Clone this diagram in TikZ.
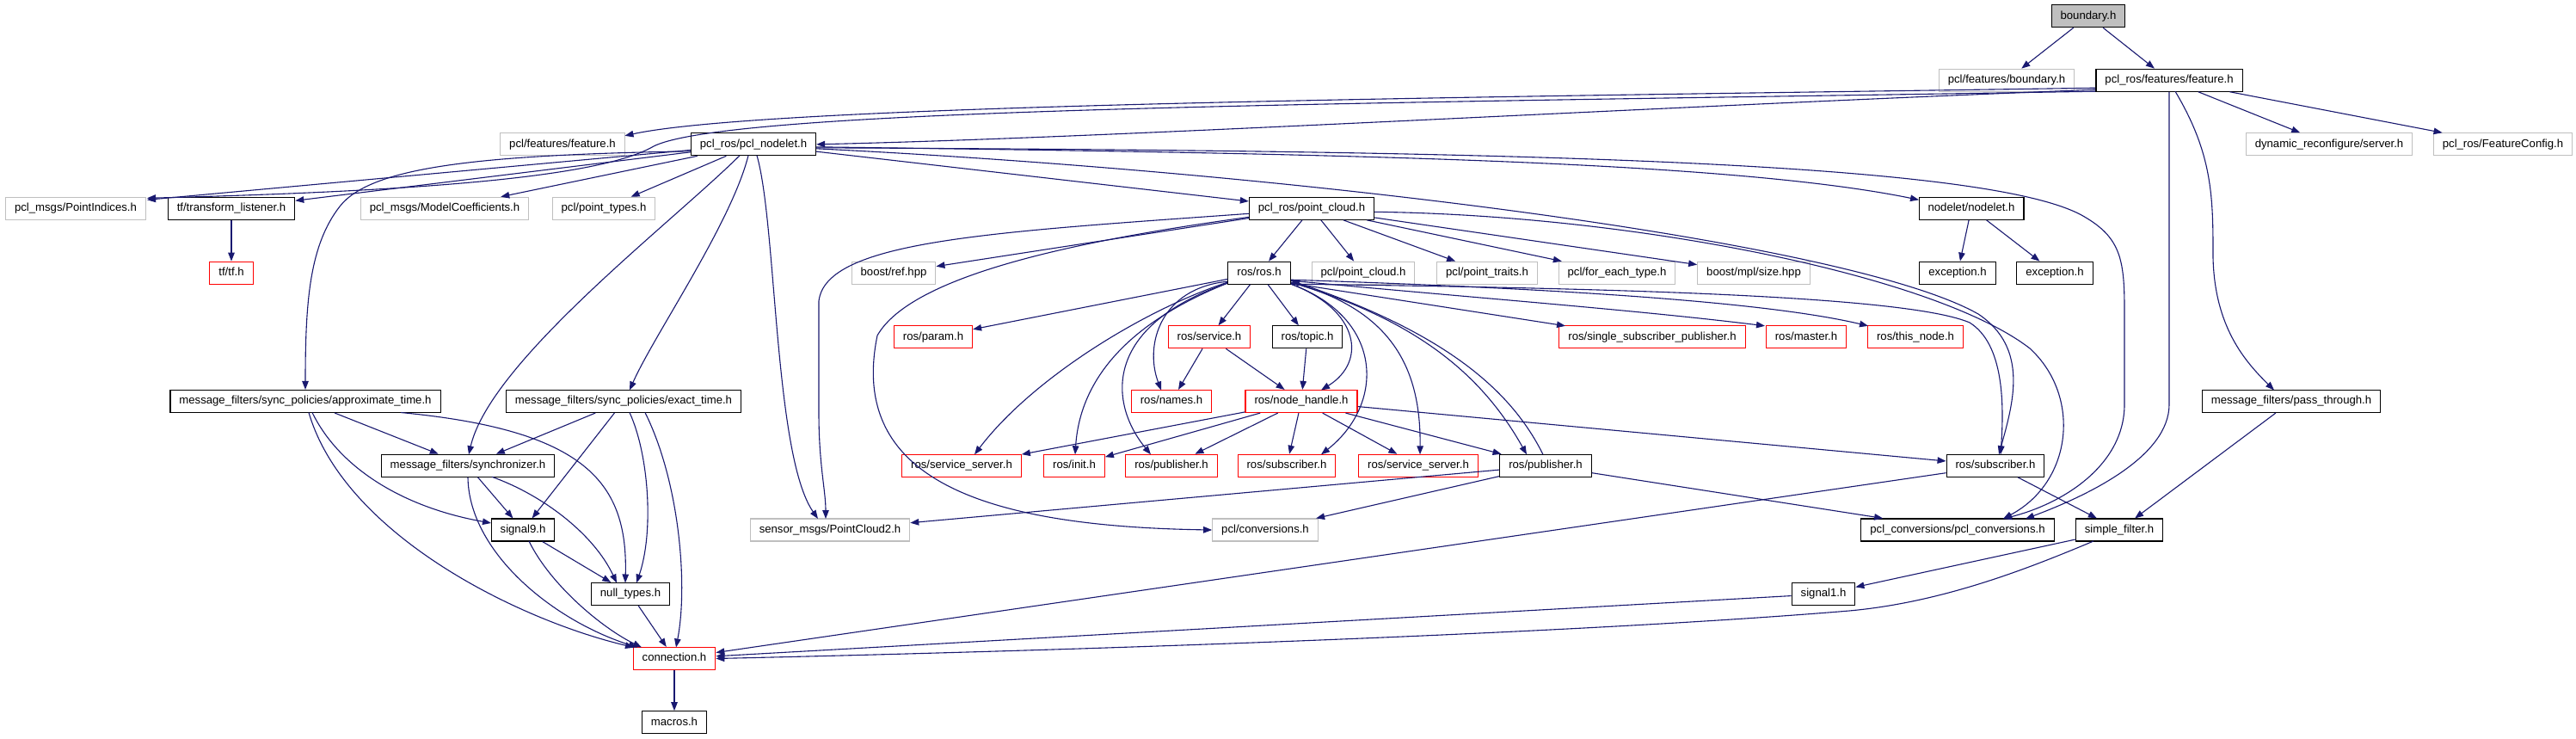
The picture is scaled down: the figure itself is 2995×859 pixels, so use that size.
\documentclass[tikz,border=0pt]{standalone}
\usepackage{fontspec}
\setmainfont{Liberation Sans}
\usetikzlibrary{arrows.meta}
\definecolor{edgec}{HTML}{191970}
\definecolor{grayb}{HTML}{BFBFBF}
\definecolor{redb}{HTML}{FF0000}
\tikzset{
 bx/.style={rectangle, line width=1.1pt, minimum height=26pt, inner xsep=10.5pt, inner ysep=0pt, text height=9.5pt, text depth=2.8pt, font=\fontsize{13.15pt}{15pt}\selectfont, fill=white},
 kbox/.style={bx, draw=black},
 gbox/.style={bx, draw=grayb},
 rbox/.style={bx, draw=redb},
 rootbox/.style={bx, draw=black, fill=grayb},
 edg/.style={draw=edgec, line width=1.1pt, -{Triangle[length=10pt,width=7.5pt]}},
}
\begin{document}
\begin{tikzpicture}[x=1pt,y=-1pt]
\fill[white] (0,0) rectangle (2995,859);
\useasboundingbox (0,0) rectangle (2995,859);
% row 0
\node[rootbox] (N0) at (2428,18.7) {boundary.h};
% row 1
\node[gbox] (N1) at (2333,93.2) {pcl/features/boundary.h};
\node[kbox] (N2) at (2522,93.2) {pcl\_ros/features/feature.h};
% row 2
\node[gbox] (N3) at (654,167.8) {pcl/features/feature.h};
\node[kbox] (N4) at (876,167.8) {pcl\_ros/pcl\_nodelet.h};
\node[gbox] (N5) at (2708,167.8) {dynamic\_reconfigure/server.h};
\node[gbox] (N6) at (2910,167.8) {pcl\_ros/FeatureConfig.h};
% row 3
\node[gbox] (N7) at (88,242.3) {pcl\_msgs/PointIndices.h};
\node[kbox] (N8) at (269,242.3) {tf/transform\_listener.h};
\node[gbox] (N9) at (517,242.3) {pcl\_msgs/ModelCoefficients.h};
\node[gbox] (N10) at (702,242.3) {pcl/point\_types.h};
\node[kbox] (N11) at (1525,242.3) {pcl\_ros/point\_cloud.h};
\node[kbox] (N12) at (2292,242.3) {nodelet/nodelet.h};
% row 4
\node[rbox] (N13) at (269,317.2) {tf/tf.h};
\node[gbox] (N14) at (1039,317.2) {boost/ref.hpp};
\node[kbox] (N15) at (1464,317.2) {ros/ros.h};
\node[gbox] (N16) at (1585,317.2) {pcl/point\_cloud.h};
\node[gbox] (N17) at (1729,317.2) {pcl/point\_traits.h};
\node[gbox] (N18) at (1880,317.2) {pcl/for\_each\_type.h};
\node[gbox] (N19) at (2039,317.2) {boost/mpl/size.hpp};
\node[kbox] (N20) at (2276,317.2) {exception.h};
\node[kbox] (N21) at (2389,317.2) {exception.h};
% row 5
\node[rbox] (N22) at (1085,391.8) {ros/param.h};
\node[rbox] (N23) at (1406,391.8) {ros/service.h};
\node[kbox] (N24) at (1520,391.8) {ros/topic.h};
\node[rbox] (N25) at (1921,391.8) {ros/single\_subscriber\_publisher.h};
\node[rbox] (N26) at (2100,391.8) {ros/master.h};
\node[rbox] (N27) at (2227,391.8) {ros/this\_node.h};
% row 6
\node[kbox] (N28) at (355,466.5) {message\_filters/sync\_policies/approximate\_time.h};
\node[kbox] (N29) at (725,466.5) {message\_filters/sync\_policies/exact\_time.h};
\node[rbox] (N30) at (1362,466.5) {ros/names.h};
\node[rbox] (N31) at (1513,466.5) {ros/node\_handle.h};
\node[kbox] (N32) at (2664,466.5) {message\_filters/pass\_through.h};
% row 7
\node[kbox] (N33) at (544,541.3) {message\_filters/synchronizer.h};
\node[rbox] (N34) at (1118,541.3) {ros/service\_server.h};
\node[rbox] (N35) at (1249,541.3) {ros/init.h};
\node[rbox] (N36) at (1362,541.3) {ros/publisher.h};
\node[rbox] (N37) at (1496,541.3) {ros/subscriber.h};
\node[rbox] (N38) at (1649,541.3) {ros/service\_server.h};
\node[kbox] (N39) at (1797,541.3) {ros/publisher.h};
\node[kbox] (N40) at (2320,541.3) {ros/subscriber.h};
% row 8
\node[kbox] (N41) at (608,616) {signal9.h};
\node[gbox] (N42) at (965,616) {sensor\_msgs/PointCloud2.h};
\node[gbox] (N43) at (1471,616) {pcl/conversions.h};
\node[kbox] (N44) at (2276,616) {pcl\_conversions/pcl\_conversions.h};
\node[kbox] (N45) at (2464,616) {simple\_filter.h};
% row 9
\node[kbox] (N46) at (733,690.5) {null\_types.h};
\node[kbox] (N47) at (2120,690.5) {signal1.h};
% row 10, 11
\node[rbox] (N48) at (784,765.5) {connection.h};
\node[kbox] (N49) at (784,839.7) {macros.h};

% ---- edges from boundary.h and feature.h
\draw[edg] (N0) -- (N1);
\draw[edg] (N0) -- (N2);
\draw[edg] (N2) -- (N5);
\draw[edg] (N2) -- (N6);
\draw[edg] ([shift={(-86,9)}]N2.center) .. controls (1800,112) and (900,120) .. ([shift={(72.5,-10)}]N3.center);
\draw[edg] ([shift={(-86,13)}]N2.center) .. controls (1600,120) and (850,125) .. (760,170) .. controls (700,205) and (500,222) .. ([shift={(83,-12)}]N7.center);
\draw[edg] ([shift={(-86,11)}]N2.center) .. controls (1900,125) and (1300,160) .. (N4.east);
\draw[edg] (N2.south) -- (2522,470) .. controls (2522,530) and (2430,575) .. ([shift={(79,-13)}]N44.center);
\draw[edg] ([shift={(7,13)}]N2.center) .. controls (2573,180) and (2573,230) .. (2573,300) .. controls (2575,380) and (2610,420) .. ([shift={(-20,-13)}]N32.center);

% ---- pcl_nodelet.h
\draw[edg] (N4) -- ([shift={(83,-10)}]N7.center);
\draw[edg] (N4) -- (N8);
\draw[edg] (N4) -- (N9);
\draw[edg] (N4) -- (N10);
\draw[edg] (N4) -- (N11);
\draw[edg] ([shift={(-73,8)}]N4.center) .. controls (550,180) and (430,195) .. (395,240) .. controls (360,285) and (355,350) .. (N28.north);
\draw[edg] ([shift={(-6,13)}]N4.center) .. controls (850,260) and (760,390) .. ([shift={(7,-13)}]N29.center);
\draw[edg] ([shift={(-16,13)}]N4.center) .. controls (780,260) and (570,420) .. ([shift={(1,-13)}]N33.center);
\draw[edg] ([shift={(4,13)}]N4.center) .. controls (903,260) and (900,530) .. ([shift={(-14,-13)}]N42.center);
\draw[edg] ([shift={(73,3)}]N4.center) .. controls (1500,178) and (2000,185) .. ([shift={(-61,-10)}]N12.center);
\draw[edg] ([shift={(73,5)}]N4.center) .. controls (1500,200) and (2150,280) .. (2300,365) .. controls (2360,405) and (2340,470) .. ([shift={(4,-13)}]N40.center);
\draw[edg] ([shift={(73,4)}]N4.center) .. controls (1700,175) and (2300,185) .. (2420,250) .. controls (2465,275) and (2470,300) .. (2470,360) -- (2470,470) .. controls (2470,540) and (2400,585) .. ([shift={(53,-13)}]N44.center);

% ---- pcl_ros/point_cloud.h
\draw[edg] (N11) -- (N15);
\draw[edg] (N11) -- (N16);
\draw[edg] (N11) -- (N17);
\draw[edg] (N11) -- (N18);
\draw[edg] (N11) -- (N19);
\draw[edg] (N11) -- (N14);
\draw[edg] ([shift={(-73,6)}]N11.center) .. controls (1150,270) and (960,280) .. (952,350) -- (952,480) .. controls (952,540) and (960,570) .. ([shift={(-5,-13)}]N42.center);
\draw[edg] ([shift={(-73,10)}]N11.center) .. controls (1250,280) and (1060,320) .. (1020,390) .. controls (985,560) and (1150,612) .. (N43.west);
\draw[edg] ([shift={(73,4)}]N11.center) .. controls (1900,250) and (2250,320) .. (2360,405) .. controls (2420,460) and (2410,560) .. ([shift={(53,-13)}]N44.center);

% ---- tf, nodelet
\draw[edg] (N8) -- (N13);
\draw[edg] (N12) -- (N20);
\draw[edg] (N12) -- (N21);

% ---- ros/ros.h
\draw[edg] (N15) -- (N22);
\draw[edg] (N15) -- (N23);
\draw[edg] (N15) -- (N24);
\draw[edg] ([shift={(-37,10)}]N15.center) .. controls (1350,335) and (1330,400) .. ([shift={(-12,-13)}]N30.center);
\draw[edg] ([shift={(37,13)}]N15.center) .. controls (1580,360) and (1590,420) .. ([shift={(23,-13)}]N31.center);
\draw[edg] ([shift={(-37,11)}]N15.center) .. controls (1330,360) and (1200,440) .. ([shift={(15,-13)}]N34.center);
\draw[edg] ([shift={(-37,12)}]N15.center) .. controls (1300,380) and (1255,450) .. ([shift={(1,-13)}]N35.center);
\draw[edg] ([shift={(-37,12)}]N15.center) .. controls (1280,380) and (1290,470) .. ([shift={(-24,-13)}]N36.center);
\draw[edg] ([shift={(37,13)}]N15.center) .. controls (1610,370) and (1610,470) .. ([shift={(40,-13)}]N37.center);
\draw[edg] ([shift={(37,11)}]N15.center) .. controls (1620,360) and (1652,430) .. ([shift={(2,-13)}]N38.center);
\draw[edg] ([shift={(37,11)}]N15.center) .. controls (1640,370) and (1720,430) .. ([shift={(-22,-13)}]N39.center);
\draw[edg] ([shift={(-3,-13)}]N39.center) .. controls (1760,460) and (1690,390) .. ([shift={(37,9)}]N15.center);
\draw[edg] ([shift={(37,12)}]N15.center) -- ([shift={(-101,-13)}]N25.center);
\draw[edg] ([shift={(37,9)}]N15.center) .. controls (1700,345) and (1900,360) .. ([shift={(-48,-13)}]N26.center);
\draw[edg] ([shift={(37,8)}]N15.center) .. controls (1800,335) and (2050,350) .. ([shift={(-55,-13)}]N27.center);
\draw[edg] ([shift={(37,13)}]N15.center) .. controls (1900,335) and (2220,345) .. (2290,375) .. controls (2330,400) and (2330,470) .. ([shift={(6,-13)}]N40.center);

% ---- service, topic
\draw[edg] (N23) -- (N30);
\draw[edg] (N23) -- (N31);
\draw[edg] (N24) -- (N31);

% ---- node_handle
\draw[edg] (N31) -- (N34);
\draw[edg] (N31) -- (N35);
\draw[edg] (N31) -- (N36);
\draw[edg] (N31) -- (N37);
\draw[edg] (N31) -- (N38);
\draw[edg] (N31) -- (N39);
\draw[edg] (N31) -- (N40);

% ---- publisher (black), subscriber (black)
\draw[edg] (N39) -- (N42);
\draw[edg] (N39) -- (N43);
\draw[edg] (N39) -- (N44);
\draw[edg] (N40) -- (N45);
\draw[edg] (N40) -- (N48);

% ---- pass_through, simple_filter, signal1
\draw[edg] (N32) -- (N45);
\draw[edg] (N45) -- (N47);
\draw[edg] (N47) -- (N48);
\draw[edg] ([shift={(-30,13)}]N45.center) .. controls (2360,660) and (2260,700) .. (2150,710) .. controls (1850,735) and (1300,755) .. (N48.east);

% ---- message_filters cluster
\draw[edg] (N28) -- (N33);
\draw[edg] ([shift={(8,13)}]N28.center) .. controls (395,545) and (470,590) .. ([shift={(-37,-8)}]N41.center);
\draw[edg] ([shift={(111,13)}]N28.center) .. controls (680,500) and (730,560) .. ([shift={(-6,-13)}]N46.center);
\draw[edg] ([shift={(4,13)}]N28.center) .. controls (400,620) and (600,720) .. ([shift={(-47,-13)}]N48.center);
\draw[edg] (N29) -- (N33);
\draw[edg] (N29) -- (N41);
\draw[edg] ([shift={(7,13)}]N29.center) .. controls (755,530) and (760,620) .. ([shift={(7,-13)}]N46.center);
\draw[edg] ([shift={(25,13)}]N29.center) .. controls (790,560) and (800,680) .. ([shift={(2,-13)}]N48.center);
\draw[edg] (N33) -- (N41);
\draw[edg] ([shift={(28,13)}]N33.center) .. controls (630,575) and (690,620) .. ([shift={(-16,-13)}]N46.center);
\draw[edg] (N33.south) .. controls (545,640) and (640,720) .. ([shift={(-43,-13)}]N48.center);
\draw[edg] (N41) -- (N46);
\draw[edg] ([shift={(7,13)}]N41.center) .. controls (640,680) and (700,730) .. ([shift={(-38,-13)}]N48.center);
\draw[edg] (N46) -- (N48);
\draw[edg] (N48) -- (N49);
\end{tikzpicture}
\end{document}
